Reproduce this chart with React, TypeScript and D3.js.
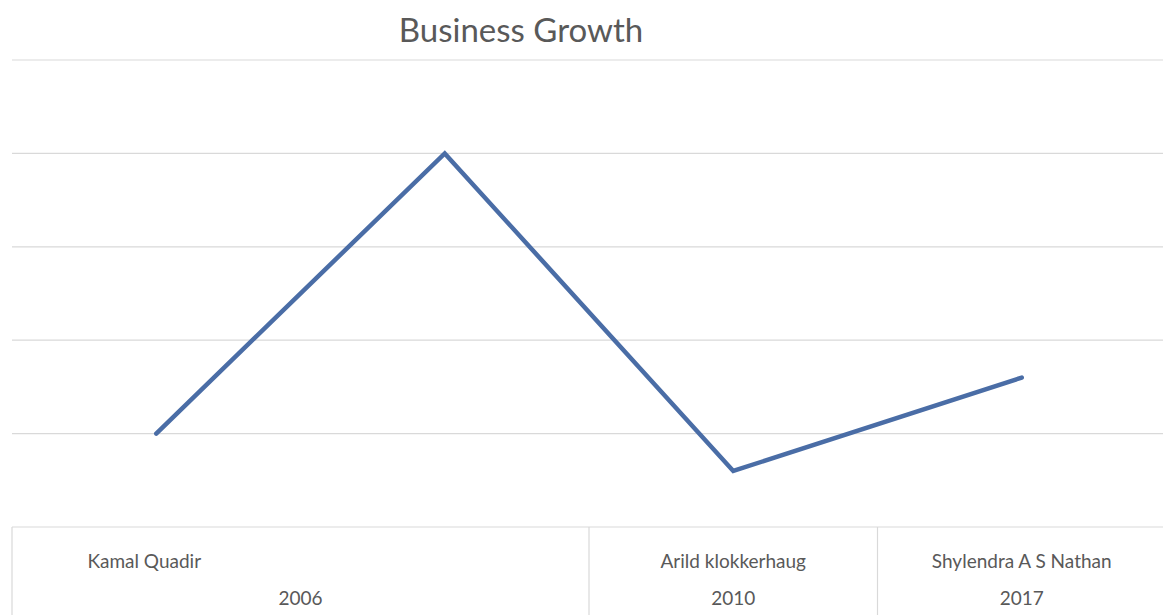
import React from "react";
import * as d3 from "d3";

const title = "Business Growth";
const names = ["Kamal Quadir", "", "Arild klokkerhaug", "Shylendra A S Nathan"];
const years = ["2006", "2006", "2010", "2017"];
const values = [1, 4, 0.6, 1.6];
const yTicks = [1, 2, 3, 4, 5];

const W = 1165;
const H = 615;

export default function App() {
  const x = d3.scaleBand<number>().domain(d3.range(names.length)).range([12, 1166]).padding(0);
  const y = d3.scaleLinear().domain([0, 5]).range([527, 60]);
  const cx = (i: number) => (x(i) as number) + x.bandwidth() / 2;
  const line = d3
    .line<number>()
    .x((_, i) => cx(i))
    .y((d) => y(d));

  const groups: { label: string; start: number; end: number }[] = [];
  years.forEach((yr, i) => {
    const last = groups[groups.length - 1];
    if (last && last.label === yr) last.end = i;
    else groups.push({ label: yr, start: i, end: i });
  });
  const textColor = "#595959";
  const font = "Lato, 'Open Sans', sans-serif";

  return (
    <svg
      width={W}
      height={H}
      style={{ position: "absolute", left: 0, top: 0, background: "#fff" }}
    >
      <text x={521} y={42} textAnchor="middle" fontFamily={font} fontSize={33} fill={textColor}>
        {title}
      </text>
      {yTicks.map((t) => (
        <line key={t} x1={12} x2={1163} y1={y(t)} y2={y(t)} stroke="#d9d9d9" strokeWidth={1.2} />
      ))}
      <line x1={12} x2={1163} y1={y(0)} y2={y(0)} stroke="#d9d9d9" strokeWidth={1.2} />
      <line x1={x(0) as number} x2={x(0) as number} y1={y(0)} y2={H} stroke="#d9d9d9" strokeWidth={1.2} />
      {groups.slice(1).map((g) => (
        <line
          key={"d" + g.label}
          x1={x(g.start) as number}
          x2={x(g.start) as number}
          y1={y(0)}
          y2={H}
          stroke="#d9d9d9"
          strokeWidth={1.2}
        />
      ))}
      {names.map((n, i) => (
        <text key={"n" + i} x={cx(i) - (i === 0 ? 12 : 0)} y={568} textAnchor="middle" fontFamily={font} fontSize={19} fill={textColor}>
          {n}
        </text>
      ))}
      {groups.map((g) => {
        const gx = ((x(g.start) as number) + (x(g.end) as number) + x.bandwidth()) / 2;
        return (
          <text key={"g" + g.label} x={gx} y={605} textAnchor="middle" fontFamily={font} fontSize={19} fill={textColor}>
            {g.label}
          </text>
        );
      })}
      <path d={line(values) || ""} fill="none" stroke="#4a6da6" strokeWidth={4.5} strokeLinejoin="miter" strokeLinecap="round" />
    </svg>
  );
}
